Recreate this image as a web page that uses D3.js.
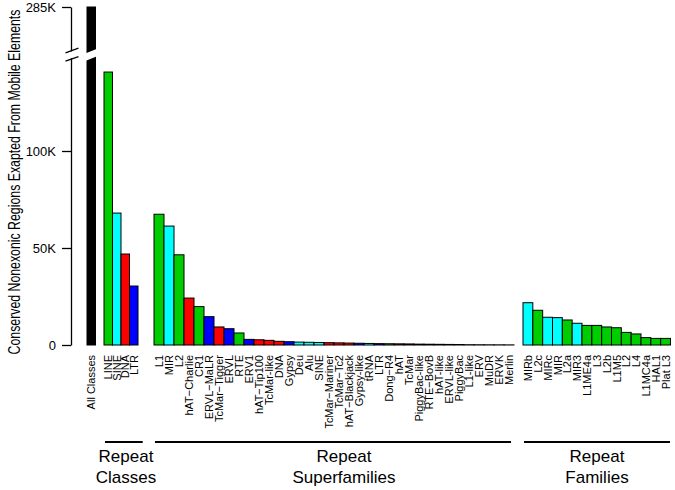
<!DOCTYPE html>
<html>
<head>
<meta charset="utf-8">
<script src="https://cdn.jsdelivr.net/npm/d3@7"></script>
<style>
  html, body { margin: 0; padding: 0; background: #fff; }
  svg { display: block; font-family: "Liberation Sans", Arial, sans-serif; }
</style>
</head>
<body>
<svg id="chart" width="675" height="490"></svg>
<script>
// ---------------- data ----------------
const allLabel = "All Classes";
const allValue = 285000;

const classNames  = ["LINE", "SINE", "DNA", "LTR"];
const classValues = [140700, 68000, 46900, 30400];

const superNames = ["L1", "MIR", "L2", "hAT\u2212Charlie", "CR1", "ERVL\u2212MaLR", "TcMar\u2212Tigger", "ERVL", "RTE", "ERV1",
  "hAT\u2212Tip100", "TcMar-like", "DNA", "Gypsy", "Deu", "Alu", "SINE", "TcMar\u2212Mariner", "TcMar\u2212Tc2", "hAT\u2212Blackjack",
  "Gypsy-like", "tRNA", "LTR", "Dong\u2212R4", "hAT", "TcMar", "PiggyBac-like", "RTE\u2212BovB", "hAT-like", "ERVL-like",
  "PiggyBac", "L1-like", "ERV", "MuDR", "ERVK", "Merlin"];
const superValues = [67400, 61300, 46500, 24200, 19800, 14600, 9300, 8400, 6200, 2900,
  2700, 2400, 1900, 1700, 1500, 1400, 1300, 1200, 1100, 1000,
  900, 800, 700, 650, 600, 550, 450, 400, 350, 300,
  250, 150, 120, 100, 80, 60];
const superClass = ["LINE", "SINE", "LINE", "DNA", "LINE", "LTR", "DNA", "LTR", "LINE", "LTR",
  "DNA", "DNA", "DNA", "LTR", "SINE", "SINE", "SINE", "DNA", "DNA", "DNA",
  "LTR", "SINE", "LTR", "LINE", "DNA", "DNA", "DNA", "LINE", "DNA", "LTR",
  "DNA", "LINE", "LTR", "DNA", "LTR", "DNA"];

const familyNames  = ["MIRb", "L2c", "MIRc", "MIR", "L2a", "MIR3", "L1ME4a", "L3", "L2b", "L1M5", "L2", "L4", "L1MC4a", "HAL1", "Plat L3"];
const familyValues = [21800, 17900, 14300, 14100, 12900, 11200, 10100, 10100, 9300, 8900, 6500, 5700, 3800, 3400, 3400];
const familyClass  = ["SINE", "LINE", "SINE", "SINE", "LINE", "SINE", "LINE", "LINE", "LINE", "LINE", "LINE", "LINE", "LINE", "LINE", "LINE"];

const yTickValues = [0, 50000, 100000, 285000];
const yTickLabels = ["0", "50K", "100K", "285K"];

const groupLabels = [["Repeat", "Classes"], ["Repeat", "Superfamilies"], ["Repeat", "Families"]];

const yTitle = "Conserved Nonexonic Regions Exapted From Mobile Elements";

// ---------------- styling ----------------
const classColor = { LINE: "#00CD00", SINE: "#00FFFF", DNA: "#FF0000", LTR: "#0000FF", All: "#000000" };

const svg = d3.select("#chart");
svg.append("rect").attr("width", 675).attr("height", 490).attr("fill", "#fff");

// broken y scale (piecewise)
const y = d3.scaleLinear().domain([0, 145000, 285000]).range([345, 63.7, 7]);

// x band scales per group
const xClasses = d3.scaleBand().domain([allLabel, "_gap", ...classNames]).range([87, 138]).paddingInner(0);
const xSuper   = d3.scaleBand().domain(superNames.map((d, i) => i)).range([154, 514]).paddingInner(0);
const xFamily  = d3.scaleBand().domain(familyNames.map((d, i) => i)).range([523, 670.5]).paddingInner(0);

const bars = [];
bars.push({ x: xClasses(allLabel), w: xClasses.bandwidth(), v: allValue, c: "All", label: allLabel });
classNames.forEach((n, i) => bars.push({ x: xClasses(n), w: xClasses.bandwidth(), v: classValues[i], c: n, label: n }));
superNames.forEach((n, i) => bars.push({ x: xSuper(i), w: xSuper.bandwidth(), v: superValues[i], c: superClass[i], label: n }));
familyNames.forEach((n, i) => bars.push({ x: xFamily(i), w: xFamily.bandwidth(), v: familyValues[i], c: familyClass[i], label: n }));

svg.append("g").selectAll("rect").data(bars).join("rect")
  .attr("x", d => d.x)
  .attr("y", d => y(d.v))
  .attr("width", d => d.w)
  .attr("height", d => y(0) - y(d.v))
  .attr("fill", d => classColor[d.c])
  .attr("stroke", "#000")
  .attr("stroke-width", 1);

// bar labels
svg.append("g").selectAll("text").data(bars).join("text")
  .attr("transform", d => `translate(${d.x + d.w / 2},355) rotate(-90) scale(1,1.06)`)
  .attr("text-anchor", "end")
  .attr("dy", "0.36em")
  .attr("font-size", 11)
  .attr("fill", "#000")
  .text(d => d.label);

// y axis
const axis = d3.axisLeft(y)
  .tickValues(yTickValues)
  .tickFormat((d, i) => yTickLabels[i])
  .tickSize(9)
  .tickSizeOuter(0)
  .tickPadding(6);
const gAxis = svg.append("g").attr("transform", "translate(71,0)").call(axis);
gAxis.select(".domain").attr("stroke", "#000").attr("stroke-width", 1.3);
gAxis.selectAll(".tick line").attr("stroke", "#000").attr("stroke-width", 1.3);
gAxis.selectAll(".tick text").attr("font-size", 13).attr("fill", "#000")
  .attr("font-family", "'Liberation Sans', Arial, sans-serif");

// axis break
const slope = -0.35;
const ax0 = 64, ax1 = 79;
const l1 = x => 52.7 + slope * (x - 65.7);
const l2 = x => 61 + slope * (x - 65.7);
svg.append("polygon")
  .attr("points", [[ax0, l1(ax0) + 0.8], [ax1, l1(ax1) + 0.8], [ax1, l2(ax1) - 0.8], [ax0, l2(ax0) - 0.8]].map(p => p.join(",")).join(" "))
  .attr("fill", "#fff");
[l1, l2].forEach(f => {
  svg.append("line").attr("x1", 65.5).attr("y1", f(65.5)).attr("x2", 78.5).attr("y2", f(78.5))
    .attr("stroke", "#000").attr("stroke-width", 1.3);
});
// break in the tall bar
const bs = -0.4;
const b1 = x => 53.3 + bs * (x - 86);
const b2 = x => 60.7 + bs * (x - 86);
svg.append("polygon")
  .attr("points", [[84, b1(84)], [99, b1(99)], [99, b2(99)], [84, b2(84)]].map(p => p.join(",")).join(" "))
  .attr("fill", "#fff");

// y title (compressed along its length to match the reference extent)
svg.append("text")
  .attr("transform", "translate(20,182) rotate(-90) scale(0.77,1)")
  .attr("text-anchor", "middle")
  .attr("font-size", 16)
  .attr("fill", "#000")
  .text(yTitle);

// group brackets
const groups = [
  { x0: 105, x1: 142.7, cx: 126 },
  { x0: 155, x1: 511, cx: 344 },
  { x0: 524, x1: 670, cx: 597 }
];
groups.forEach((g, i) => {
  svg.append("line").attr("x1", g.x0).attr("x2", g.x1).attr("y1", 442).attr("y2", 442)
    .attr("stroke", "#000").attr("stroke-width", 2);
  groupLabels[i].forEach((t, j) => {
    svg.append("text").attr("x", g.cx).attr("y", 462 + j * 21)
      .attr("text-anchor", "middle").attr("font-size", 17).attr("fill", "#000").text(t);
  });
});
</script>
</body>
</html>
